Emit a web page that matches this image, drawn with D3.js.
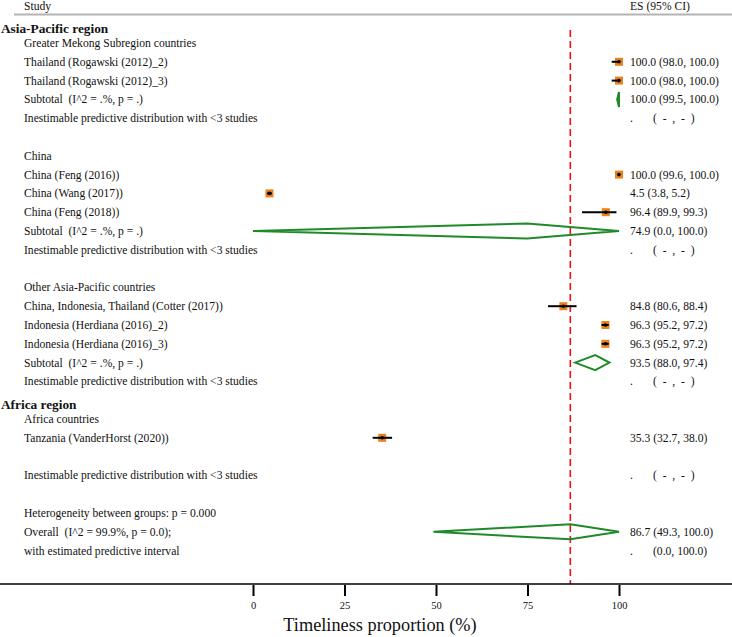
<!DOCTYPE html>
<html>
<head>
<meta charset="utf-8">
<script src="https://cdn.jsdelivr.net/npm/d3@7"></script>
<style>
  html, body { margin: 0; padding: 0; background: #fff; }
  text { font-family: "Liberation Serif", "Times New Roman", serif; fill: #111; white-space: pre; }
</style>
</head>
<body>
<div id="chart"></div>
<script>
// row numbers are slots in the forest plot, top to bottom
const regionNames = ["Asia-Pacific region", "Africa region"];
const regionRows = [-1, 19];

const subgroupNames = ["Greater Mekong Subregion countries", "China", "Other Asia-Pacific countries", "Africa countries"];
const subgroupRows = [0, 6, 13, 20];

const studyNames = [
  "Thailand (Rogawski (2012)_2)", "Thailand (Rogawski (2012)_3)",
  "China (Feng (2016))", "China (Wang (2017))", "China (Feng (2018))",
  "China, Indonesia, Thailand (Cotter (2017))", "Indonesia (Herdiana (2016)_2)", "Indonesia (Herdiana (2016)_3)",
  "Tanzania (VanderHorst (2020))"
];
const studyRows = [1, 2, 7, 8, 9, 14, 15, 16, 21];
const studyES = [100.0, 100.0, 100.0, 4.5, 96.4, 84.8, 96.3, 96.3, 35.3];
const studyLo = [98.0, 98.0, 99.6, 3.8, 89.9, 80.6, 95.2, 95.2, 32.7];
const studyHi = [100.0, 100.0, 100.0, 5.2, 99.3, 88.4, 97.2, 97.2, 38.0];

const pooledNames = ["Subtotal  (I^2 = .%, p = .)", "Subtotal  (I^2 = .%, p = .)", "Subtotal  (I^2 = .%, p = .)", "Overall  (I^2 = 99.9%, p = 0.0);"];
const pooledRows = [3, 10, 17, 26];
const pooledES = [100.0, 74.9, 93.5, 86.7];
const pooledLo = [99.5, 0.0, 88.0, 49.3];
const pooledHi = [100.0, 100.0, 97.4, 100.0];

const inestimableRows = [4, 11, 18, 23];
const heterogeneityText = "Heterogeneity between groups: p = 0.000";
const heterogeneityRow = 25;
const predictiveText = "with estimated predictive interval";
const predictiveRow = 27;
const predictiveLo = 0.0, predictiveHi = 100.0;

const xTicks = [0, 25, 50, 75, 100];
const xTitle = "Timeliness proportion (%)";

const width = 732, height = 637;
const svg = d3.select("#chart").append("svg")
  .attr("width", width)
  .attr("height", height);

const x = d3.scaleLinear().domain([0, 100]).range([253, 619]);
const y = d3.scaleLinear().domain([0, 27]).range([43, 550.6]);
const axisY = 584;
const labelX = 24, esX = 630, ciX = 653;
const fs = 11.6;
const fmt = v => v.toFixed(1);

// header
svg.append("text").attr("x", labelX).attr("y", 6).attr("dy", "0.35em")
  .attr("font-size", fs).text("Study");
svg.append("text").attr("x", esX).attr("y", 6).attr("dy", "0.35em")
  .attr("font-size", fs).text("ES (95% CI)");
svg.append("line")
  .attr("x1", 14).attr("x2", width).attr("y1", 14.5).attr("y2", 14.5)
  .attr("stroke", "#b4b4b4").attr("stroke-width", 2);

// left column labels
const label = (txt, row, opts = {}) => svg.append("text")
  .attr("x", opts.x ?? labelX)
  .attr("y", y(row) + (opts.dy ?? 0))
  .attr("dy", "0.35em")
  .attr("font-size", opts.size ?? fs)
  .attr("font-weight", opts.bold ? "bold" : null)
  .text(txt);

regionNames.forEach((t, i) => label(t, regionRows[i], { x: 1, dy: 4, size: 13.3, bold: true }));
subgroupNames.forEach((t, i) => label(t, subgroupRows[i]));
studyNames.forEach((t, i) => label(t, studyRows[i]));
pooledNames.forEach((t, i) => label(t, pooledRows[i]));
inestimableRows.forEach(r => label("Inestimable predictive distribution with <3 studies", r));
label(heterogeneityText, heterogeneityRow);
label(predictiveText, predictiveRow);

// right column estimates
studyES.forEach((v, i) => label(`${fmt(v)} (${fmt(studyLo[i])}, ${fmt(studyHi[i])})`, studyRows[i], { x: esX }));
pooledES.forEach((v, i) => label(`${fmt(v)} (${fmt(pooledLo[i])}, ${fmt(pooledHi[i])})`, pooledRows[i], { x: esX }));
inestimableRows.forEach(r => {
  label(".", r, { x: esX });
  label("(  -  ,  -  )", r, { x: ciX });
});
label(".", predictiveRow, { x: esX });
label(`(${fmt(predictiveLo)}, ${fmt(predictiveHi)})`, predictiveRow, { x: ciX });

// overall line
svg.append("line")
  .attr("x1", x(pooledES[3])).attr("x2", x(pooledES[3]))
  .attr("y1", 30).attr("y2", axisY)
  .attr("stroke", "#ee1111").attr("stroke-width", 1.6)
  .attr("stroke-dasharray", "7,4");

// study markers
const marks = svg.append("g");
studyES.forEach((v, i) => {
  const cy = y(studyRows[i]);
  marks.append("rect")
    .attr("x", x(v) - 4).attr("y", cy - 4)
    .attr("width", 8).attr("height", 8)
    .attr("fill", "#e8821e");
  marks.append("line")
    .attr("x1", x(studyLo[i])).attr("x2", x(studyHi[i]))
    .attr("y1", cy).attr("y2", cy)
    .attr("stroke", "#000").attr("stroke-width", 2);
  marks.append("circle")
    .attr("cx", x(v)).attr("cy", cy).attr("r", 1.8)
    .attr("fill", "#000");
});

// pooled diamonds
pooledES.forEach((v, i) => {
  const cy = y(pooledRows[i]), h = 7.5;
  marks.append("path")
    .attr("d", d3.line()([[x(pooledLo[i]), cy], [x(v), cy - h], [x(pooledHi[i]), cy], [x(v), cy + h]]) + "Z")
    .attr("fill", "none")
    .attr("stroke", "#1f8a2a").attr("stroke-width", 2)
    .attr("stroke-linejoin", "miter");
});

// x axis
svg.append("line")
  .attr("x1", 0).attr("x2", width).attr("y1", axisY).attr("y2", axisY)
  .attr("stroke", "#000").attr("stroke-width", 1.6);
const axis = svg.append("g")
  .attr("transform", `translate(0,${axisY + 1})`)
  .call(d3.axisBottom(x).tickValues(xTicks).tickSize(11).tickPadding(6).tickFormat(d3.format("d")));
axis.select(".domain").remove();
axis.selectAll(".tick line").attr("stroke", "#000").attr("stroke-width", 2);
axis.selectAll(".tick text")
  .attr("font-family", "Liberation Serif, serif")
  .attr("font-size", 10.5).attr("fill", "#111");

svg.append("text")
  .attr("x", 380).attr("y", 625).attr("dy", "0.35em")
  .attr("text-anchor", "middle")
  .attr("font-size", 18.3)
  .text(xTitle);
</script>
</body>
</html>
